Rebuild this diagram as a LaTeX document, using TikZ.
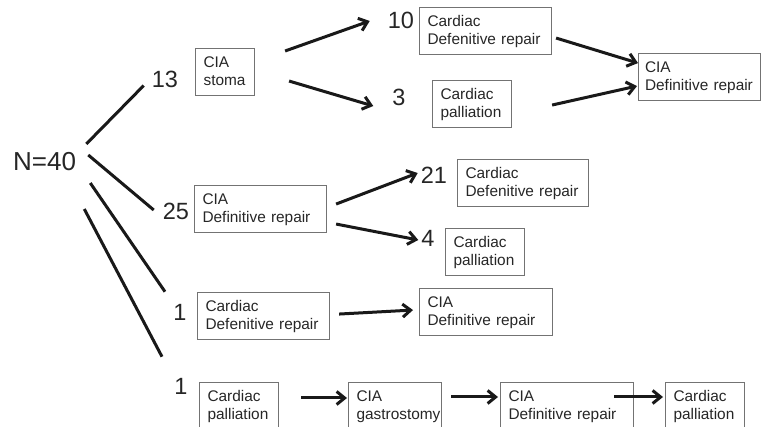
\documentclass[tikz,border=0pt]{standalone}
\usepackage{fontspec}
\setmainfont{Liberation Sans}
\usetikzlibrary{arrows.meta}

\begin{document}
\begin{tikzpicture}[x=1pt,y=-1pt,
        box/.style={draw=black!55,line width=1.1pt,anchor=north west,align=left,
            text width=#1,inner xsep=8pt,inner ysep=7.5pt,text height=11pt,text depth=21pt,
            font=\fontsize{15.4}{18}\selectfont,text=black!85},
        num/.style={inner sep=0pt,font=\fontsize{23.5}{28}\selectfont,text=black!85},
        spoke/.style={line width=3pt,black!90},
        arr/.style={spoke,-{Straight Barb[length=8pt,width=13pt]}}]
    \useasboundingbox (0,0) rectangle (761,427);
    \clip (0,0) rectangle (761,427);

    \node[anchor=west,inner sep=0pt,font=\fontsize{26}{30}\selectfont,text=black!85] (n40) at (13,162) {N=40};
    \node[num] (n13) at (165,79) {13};
    \node[num] (n25) at (176,211) {25};
    \node[num] (n1a) at (180,312) {1};
    \node[num] (n1b) at (181,386) {1};
    \node[num] (n10) at (401,20) {10};
    \node[num] (n3) at (399,97) {3};
    \node[num] (n21) at (434,175) {21};
    \node[num] (n4) at (428,238) {4};

    \node[box=43pt] (stoma) at (195,48) {CIA\\stoma};
    \node[box=116pt] (rep25) at (194,185) {CIA\\Definitive repair};
    \node[box=116pt] (c10) at (419,7) {Cardiac\\Defenitive repair};
    \node[box=63pt] (c3) at (432,80) {Cardiac\\palliation};
    \node[box=109pt,inner xsep=6.5pt] (ciaR) at (638,53) {CIA\\Definitive repair};
    \node[box=115pt] (c21) at (457,159) {Cardiac\\Defenitive repair};
    \node[box=63pt] (c4) at (445,228) {Cardiac\\palliation};
    \node[box=116pt] (c1) at (197,292) {Cardiac\\Defenitive repair};
    \node[box=117pt] (cia1) at (419,288) {CIA\\Definitive repair};
    \node[box=63pt] (b1) at (199,382) {Cardiac\\palliation};
    \node[box=77pt] (b2) at (348,382) {CIA\\gastrostomy};
    \node[box=117pt] (b3) at (500,382) {CIA\\Definitive repair};
    \node[box=63pt] (b4) at (665,382) {Cardiac\\palliation};

    \draw[spoke] ([shift={(10,-18)}]n40.east) -- ([shift={(-8,-2)}]n13.south west);
    \draw[spoke] ([shift={(12,-7)}]n40.east) -- ([shift={(-9,-1)}]n25.west);
    \draw[spoke] ([shift={(14,21)}]n40.east) -- ([shift={(-15,-12)}]n1a.north);
    \draw[spoke] ([shift={(8,47)}]n40.east) -- ([shift={(-19,-21)}]n1b.north);

    \draw[arr] ([shift={(30,3)}]stoma.north east) -- ([shift={(-18,1)}]n10.west);
    \draw[arr] ([shift={(34,9)}]stoma.east) -- ([shift={(-19,9)}]n3.west);
    \draw[arr] ([shift={(4,7)}]c10.east) -- ([shift={(0,-14)}]ciaR.west);
    \draw[arr] ([shift={(40,1)}]c3.east) -- ([shift={(-1,9)}]ciaR.west);
    \draw[arr] ([shift={(9,-5)}]rep25.east) -- ([shift={(-3,-2)}]n21.west);
    \draw[arr] ([shift={(9,15)}]rep25.east) -- ([shift={(-3,2)}]n4.west);
    \draw[arr] ([shift={(9,-2)}]c1.east) -- ([shift={(-6,-2)}]cia1.west);
    \draw[arr] ([shift={(22,16)}]b1.north east) -- ([shift={(-1,16)}]b2.north west);
    \draw[arr] ([shift={(9,15)}]b2.north east) -- ([shift={(-2,15)}]b3.north west);
    \draw[arr] ([shift={(-20,15)}]b3.north east) -- ([shift={(-2,15)}]b4.north west);
\end{tikzpicture}
\end{document}
